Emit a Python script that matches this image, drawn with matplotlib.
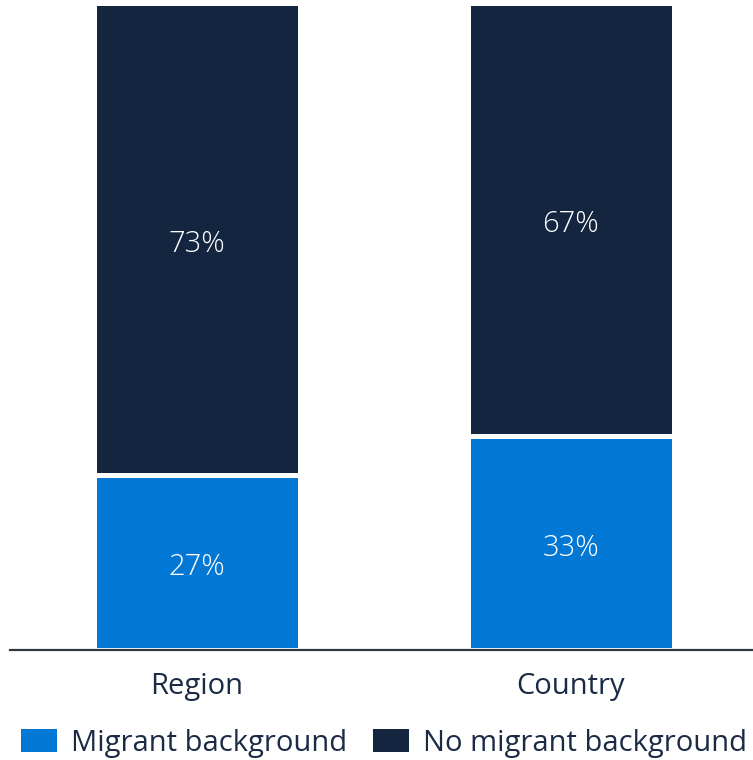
import matplotlib
matplotlib.use("Agg")
import matplotlib.pyplot as plt
from matplotlib.patches import Patch

plt.rcParams['font.family'] = ['Open Sans', 'DejaVu Sans']

categories = ["Region", "Country"]
migrant = [27, 33]
no_migrant = [73, 67]
series_names = ["Migrant background", "No migrant background"]

blue = "#0277D4"
navy = "#13253F"
text_col = "#1B2B45"
fs = 21

fig = plt.figure(figsize=(7.53, 7.6), dpi=100)
ax = fig.add_axes([10 / 753, 110 / 760, 743 / 753, 647 / 760])

x = list(range(len(categories)))
w = 0.553
lw = 3.6
ax.bar(x, migrant, width=w, color=blue, edgecolor="white", linewidth=lw, zorder=2)
ax.bar(x, no_migrant, bottom=migrant, width=w, color=navy, edgecolor="white",
       linewidth=lw, zorder=2)

# value labels, nudged slightly below segment centres
for xi, m, n in zip(x, migrant, no_migrant):
    for yv, val in ((m / 2, m), (m + n / 2, n)):
        ax.annotate(f"{val}%", (xi, yv), xytext=(0, -3.5), textcoords="offset points",
                    ha="center", va="center", color="white", fontsize=fs,
                    fontweight="light", zorder=3)

ax.set_xlim(-0.5, 1.487)
ax.set_ylim(0, 100)
for s in ["top", "right", "left"]:
    ax.spines[s].set_visible(False)
ax.spines["bottom"].set_color("#333840")
ax.spines["bottom"].set_linewidth(1.6)
ax.spines["bottom"].set_zorder(4)
ax.set_yticks([])
ax.set_xticks(x)
ax.set_xticklabels(categories, fontsize=fs, color=text_col)
ax.tick_params(axis="x", length=0, pad=15.5)

handles = [Patch(facecolor=blue, edgecolor="none"), Patch(facecolor=navy, edgecolor="none")]
fig.legend(handles, series_names, loc="center", bbox_to_anchor=(384 / 753, 17 / 760),
           ncol=2, frameon=False, fontsize=fs, labelcolor=text_col,
           handlelength=1.23, handleheight=0.86, handletextpad=0.48, columnspacing=0.89,
           borderaxespad=0)

fig.savefig("out.png", dpi=100)
